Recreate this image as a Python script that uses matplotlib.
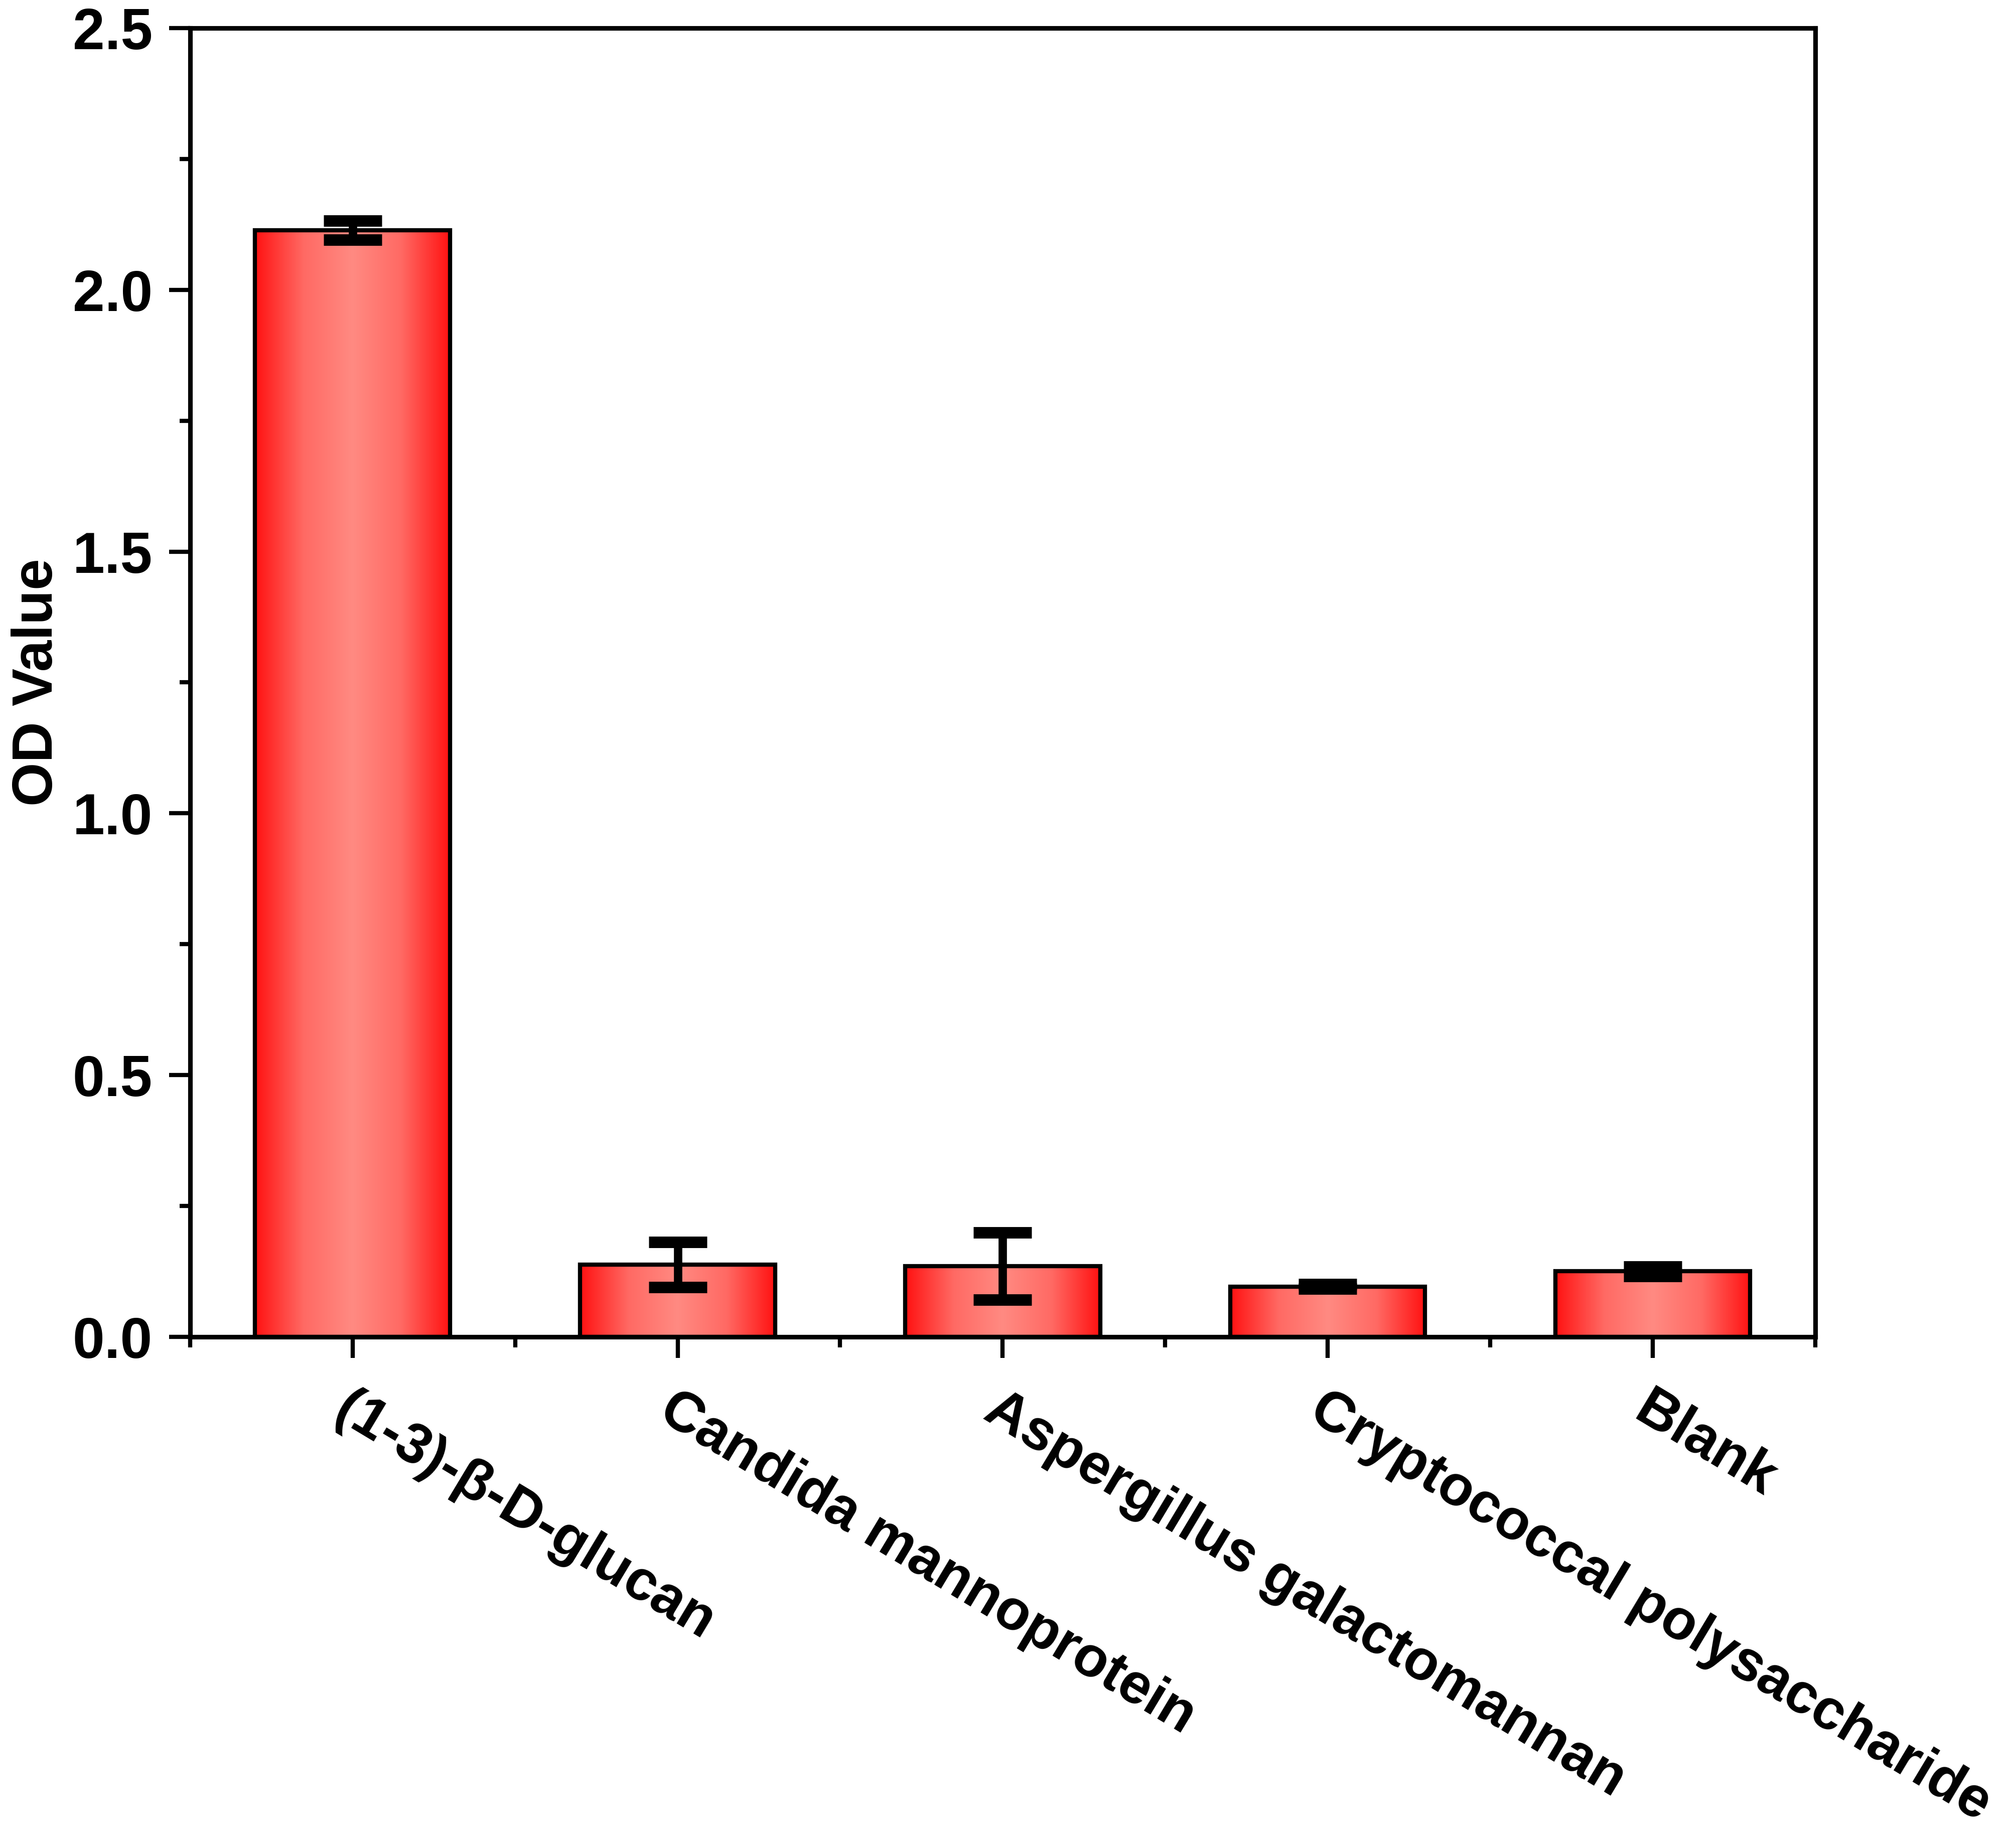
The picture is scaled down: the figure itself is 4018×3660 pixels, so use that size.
import numpy as np
import matplotlib
matplotlib.use("Agg")
import matplotlib.pyplot as plt
from matplotlib.colors import LinearSegmentedColormap

plt.rcParams['font.family'] = ['Liberation Sans', 'DejaVu Sans']
plt.rcParams['font.weight'] = 'bold'

# datos
categorias = ["(1-3)-β-D-glucan", "Candida mannoprotein", "Aspergillus galactomannan",
              "Cryptococcal polysaccharide", "Blank"]
od_valor = [2.114, 0.138, 0.135, 0.096, 0.125]
od_error = [0.018, 0.043, 0.064, 0.004, 0.009]

posiciones = np.arange(1, len(categorias) + 1)

fig = plt.figure(figsize=(4018 / 300, 3660 / 300), dpi=300)
ax = fig.add_axes([0.0943, 0.2719, 0.9004 - 0.0943, 0.9847 - 0.2719])

barras = ax.bar(posiciones, od_valor, width=0.6, facecolor='none',
                edgecolor='black', linewidth=2.0, zorder=3)

# degradado rojo horizontal dentro de cada barra
cmap = LinearSegmentedColormap.from_list("rojo", ["#ff1212", "#ff6a64", "#ff8a82", "#ff6a64", "#ff1212"])
grad = np.linspace(0, 1, 256).reshape(1, -1)
for b in barras:
    x0, y0 = b.get_x(), b.get_y()
    w, h = b.get_width(), b.get_height()
    im = ax.imshow(grad, cmap=cmap, aspect='auto', extent=[x0, x0 + w, y0, y0 + h],
                   zorder=2, interpolation='bicubic')
    im.set_clip_path(b)

eb = ax.errorbar(posiciones, od_valor, yerr=od_error, fmt='none', ecolor='black',
                 elinewidth=4, capsize=14, capthick=5.5, zorder=4)

ax.set_xlim(0.5, 5.5)
ax.set_ylim(0, 2.5)
ax.set_yticks(np.arange(0, 2.51, 0.5))
ax.set_yticks(np.arange(0, 2.51, 0.25), minor=True)
ax.set_yticklabels(["%.1f" % v for v in np.arange(0, 2.51, 0.5)])
ax.set_xticks(posiciones)
ax.set_xticks(np.arange(0.5, 5.51, 1.0), minor=True)
ax.set_xticklabels(categorias, rotation=-31, ha='left', va='top', rotation_mode='anchor')

for s in ax.spines.values():
    s.set_linewidth(2.2)
ax.tick_params(which='major', direction='out', length=10, width=2.0, labelsize=27.5, pad=8)
ax.tick_params(axis='x', which='major', labelsize=27, pad=12)
ax.tick_params(which='minor', direction='out', length=5, width=2.0)

ax.set_ylabel("OD Value", fontsize=27, fontweight='bold', labelpad=4)

plt.savefig("out.png", dpi=300)
